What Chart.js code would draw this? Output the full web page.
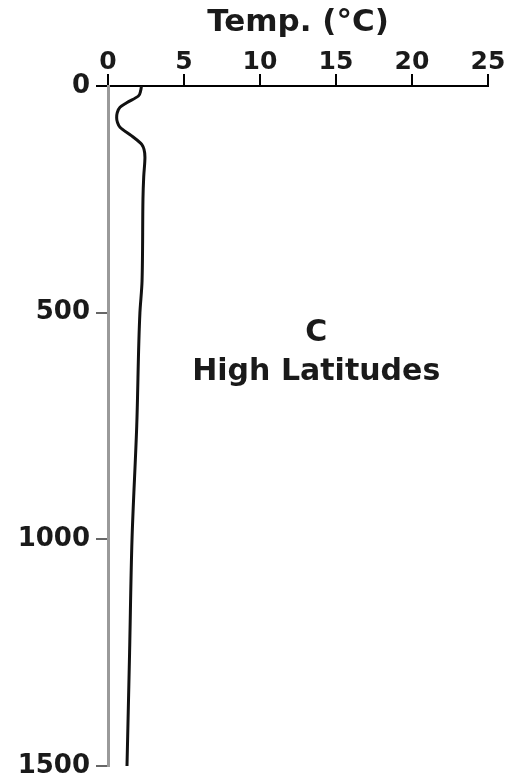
<!DOCTYPE html>
<html>
<head>
  <meta charset="UTF-8" />
  <title>Temperature profile - High Latitudes</title>
  <script src="https://cdn.jsdelivr.net/npm/chart.js"></script>
  <style>
    html, body { margin: 0; padding: 0; background: #fff; }
    #wrap { width: 510px; height: 782px; }
  </style>
</head>
<body>
  <div id="wrap"><canvas id="profile" width="510" height="782"></canvas></div>

  <script>
    // depth (m) and temperature (°C)
    const depths = [0, 10, 22, 37, 47, 60, 70, 80, 91, 110, 129, 157, 200, 250, 430, 500, 750, 1000, 1250, 1500];
    const temps = [2.2, 2.15, 2.0, 1.23, 0.79, 0.6, 0.57, 0.62, 0.79, 1.56, 2.22, 2.43, 2.35, 2.3, 2.24, 2.1, 1.89, 1.58, 1.42, 1.25];
    const tempTicks = [0, 5, 10, 15, 20, 25];
    const depthTicks = [0, 500, 1000, 1500];
    const xTitle = 'Temp. (°C)';
    const panelLetter = 'C';
    const panelName = 'High Latitudes';

    const FONT = 'DejaVu Sans';
    const INK = '#1a1a1a';

    const points = depths.map((d, i) => ({ x: temps[i], y: d }));

    // panel label in the middle of the plot
    const panelLabel = {
      id: 'panelLabel',
      afterDraw(chart) {
        const ctx = chart.ctx;
        const cx = chart.scales.x.getPixelForValue(13.7);
        ctx.save();
        ctx.fillStyle = INK;
        ctx.textAlign = 'center';
        ctx.textBaseline = 'middle';
        ctx.font = 'bold 30px "' + FONT + '"';
        ctx.fillText(panelLetter, cx, chart.scales.y.getPixelForValue(545));
        ctx.fillText(panelName, cx, chart.scales.y.getPixelForValue(632));
        ctx.restore();
      }
    };

    new Chart(document.getElementById('profile'), {
      type: 'line',
      data: {
        datasets: [{
          data: points,
          borderColor: '#111',
          borderWidth: 3,
          pointRadius: 0,
          cubicInterpolationMode: 'monotone',
          fill: false
        }]
      },
      options: {
        indexAxis: 'y',
        responsive: false,
        animation: false,
        layout: { padding: { top: 0, right: 22, bottom: 16, left: 0 } },
        plugins: { legend: { display: false }, tooltip: { enabled: false } },
        scales: {
          x: {
            type: 'linear',
            position: 'top',
            min: 0,
            max: 25,
            afterBuildTicks: s => { s.ticks = tempTicks.map(v => ({ value: v })); },
            afterFit: s => { s.height = 86; s.paddingLeft = 0; s.paddingRight = 0; },
            border: { display: true, color: '#000', width: 2 },
            grid: { drawOnChartArea: false, drawTicks: true, tickLength: 12, color: '#000', lineWidth: 2 },
            ticks: { color: INK, padding: -3, maxRotation: 0, font: { family: FONT, size: 25, weight: 'bold' } },
            title: {
              display: true,
              text: xTitle,
              color: INK,
              padding: { top: 4, bottom: 0 },
              font: { family: FONT, size: 31, weight: 'bold', lineHeight: 1.2 }
            }
          },
          y: {
            type: 'linear',
            reverse: true,
            min: 0,
            max: 1500,
            afterBuildTicks: s => { s.ticks = depthTicks.map(v => ({ value: v })); },
            afterFit: s => { s.width = 108; s.paddingTop = 0; s.paddingBottom = 0; },
            border: { display: true, color: '#9a9a9a', width: 3 },
            grid: {
              drawOnChartArea: false,
              drawTicks: true,
              tickLength: 12,
              lineWidth: 2,
              color: c => (c.tick && c.tick.value === 0 ? '#000' : '#666')
            },
            ticks: {
              color: INK,
              padding: 6,
              font: { family: FONT, size: 26, weight: 'bold' },
              callback: v => String(v)
            }
          }
        }
      },
      plugins: [panelLabel]
    });
  </script>
</body>
</html>
